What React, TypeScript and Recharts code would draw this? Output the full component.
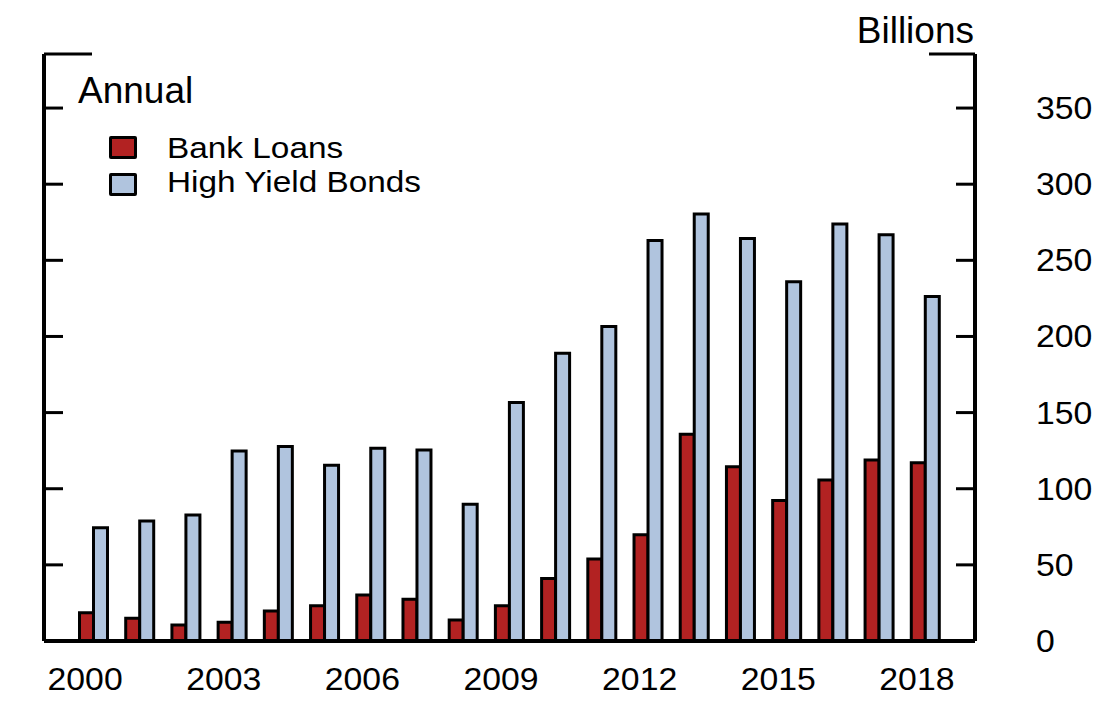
import React from 'react';
import { BarChart, Bar, XAxis, YAxis, Legend } from 'recharts';

const years = ['2000', '2001', '2002', '2003', '2004', '2005', '2006', '2007', '2008', '2009', '2010', '2011', '2012', '2013', '2014', '2015', '2016', '2017', '2018'];
const bankLoans = [18.6, 14.9, 10.5, 12.3, 19.7, 23.2, 30.2, 27.4, 13.8, 23.2, 41, 53.9, 69.8, 135.8, 114.5, 92.2, 105.8, 118.9, 117.1];
const highYieldBonds = [74.4, 78.8, 82.8, 124.8, 127.7, 115.4, 126.6, 125.5, 89.8, 156.7, 189, 206.5, 263, 280.5, 264.3, 236, 273.8, 266.8, 226.2];
const yTicks = [0, 50, 100, 150, 200, 250, 300, 350];
const Y_MAX = 385.5;
const seriesNames = ['Bank Loans', 'High Yield Bonds'];
const seriesKeys = ['bank', 'hy'];
const seriesColors = ['#B22222', '#B0C4DE'];
const titleText = 'Annual';
const unitText = 'Billions';

const data = years.map((year, i) => ({ year, bank: bankLoans[i], hy: highYieldBonds[i] }));
const axisTicks = [...yTicks, Y_MAX];

const FONT = '"Liberation Sans", Arial, Helvetica, sans-serif';
const W = 1098;
const H = 696;

const LeftTick = (props: any) => {
  const { x, y, payload } = props;
  if (payload.value === 0) return <g />;
  const len = payload.value === Y_MAX ? 48 : 19;
  return <line x1={x} x2={x + len} y1={y} y2={y} stroke="#000" strokeWidth={3} />;
};

const RightTick = (props: any) => {
  const { x, y, payload } = props;
  const isCap = payload.value === Y_MAX;
  const len = isCap ? 46 : 19;
  return (
    <g>
      {payload.value !== 0 && <line x1={x - len} x2={x} y1={y} y2={y} stroke="#000" strokeWidth={3} />}
      {!isCap && (
        <text
          transform={`translate(${x + 61},${y + 11}) scale(1.09,1)`}
          textAnchor="start"
          fontFamily={FONT}
          fontSize={31}
          fill="#000"
        >
          {payload.value}
        </text>
      )}
    </g>
  );
};

const XTick = (props: any) => {
  const { x, y, payload } = props;
  return (
    <text
      transform={`translate(${x - 8.5},${y + 49}) scale(1.09,1)`}
      textAnchor="middle"
      fontFamily={FONT}
      fontSize={31}
      fill="#000"
    >
      {payload.value}
    </text>
  );
};

const LegendContent = () => (
  <div style={{ position: 'relative', fontFamily: FONT, color: '#000', width: W, height: 0 }}>
    <div style={{ position: 'absolute', left: 70, top: 63.7, fontSize: 37, lineHeight: '37px', whiteSpace: 'nowrap' }}>{titleText}</div>
    <div style={{ position: 'absolute', left: 0, width: 966, textAlign: 'right', top: 3.7, fontSize: 37, lineHeight: '37px', whiteSpace: 'nowrap' }}>{unitText}</div>
    {seriesNames.map((name, i) => (
      <React.Fragment key={name}>
        <div
          style={{
            position: 'absolute',
            left: 101,
            top: 128 + i * 37.3,
            width: 28,
            height: 23,
            boxSizing: 'border-box',
            border: '3px solid #000',
            borderRadius: 2,
            background: seriesColors[i],
          }}
        />
        <div
          style={{
            position: 'absolute',
            left: 159,
            top: 125.8 + i * 34.4,
            fontSize: 29,
            lineHeight: '29px',
            whiteSpace: 'nowrap',
            transform: 'scaleX(1.15)',
            transformOrigin: 'left center',
          }}
        >
          {name}
        </div>
      </React.Fragment>
    ))}
  </div>
);

export default function App() {
  return (
    <div style={{ width: W, height: H }}>
      <BarChart
        width={W}
        height={H}
        data={data}
        margin={{ top: 46, right: 0, bottom: 13, left: 0 }}
        barGap={0}
      >
        <XAxis
          dataKey="year"
          interval={2}
          tickLine={false}
          tickSize={0}
          tickMargin={0}
          padding={{ left: 26.5, right: 26.5 }}
          axisLine={{ stroke: '#000', strokeWidth: 4 }}
          height={50}
          tick={<XTick />}
        />
        <YAxis
          yAxisId="left"
          orientation="left"
          width={36}
          domain={[0, Y_MAX]}
          ticks={axisTicks}
          interval={0}
          tickLine={false}
          tickSize={0}
          tickMargin={0}
          axisLine={{ stroke: '#000', strokeWidth: 4 }}
          tick={<LeftTick />}
          allowDataOverflow
        />
        <YAxis
          yAxisId="right"
          orientation="right"
          width={131}
          domain={[0, Y_MAX]}
          ticks={axisTicks}
          interval={0}
          tickLine={false}
          tickSize={0}
          tickMargin={0}
          axisLine={{ stroke: '#000', strokeWidth: 4 }}
          tick={<RightTick />}
          allowDataOverflow
        />
        <Legend
          layout="vertical"
          align="center"
          verticalAlign="middle"
          content={<LegendContent />}
          wrapperStyle={{ position: 'absolute', left: 0, top: 0, width: W, height: 0 }}
        />
        {seriesKeys.map((k, i) => (
          <Bar
            key={k}
            yAxisId="right"
            dataKey={k}
            name={seriesNames[i]}
            fill={seriesColors[i]}
            stroke="#000"
            strokeWidth={3}
            barSize={14}
            isAnimationActive={false}
          />
        ))}
      </BarChart>
    </div>
  );
}
